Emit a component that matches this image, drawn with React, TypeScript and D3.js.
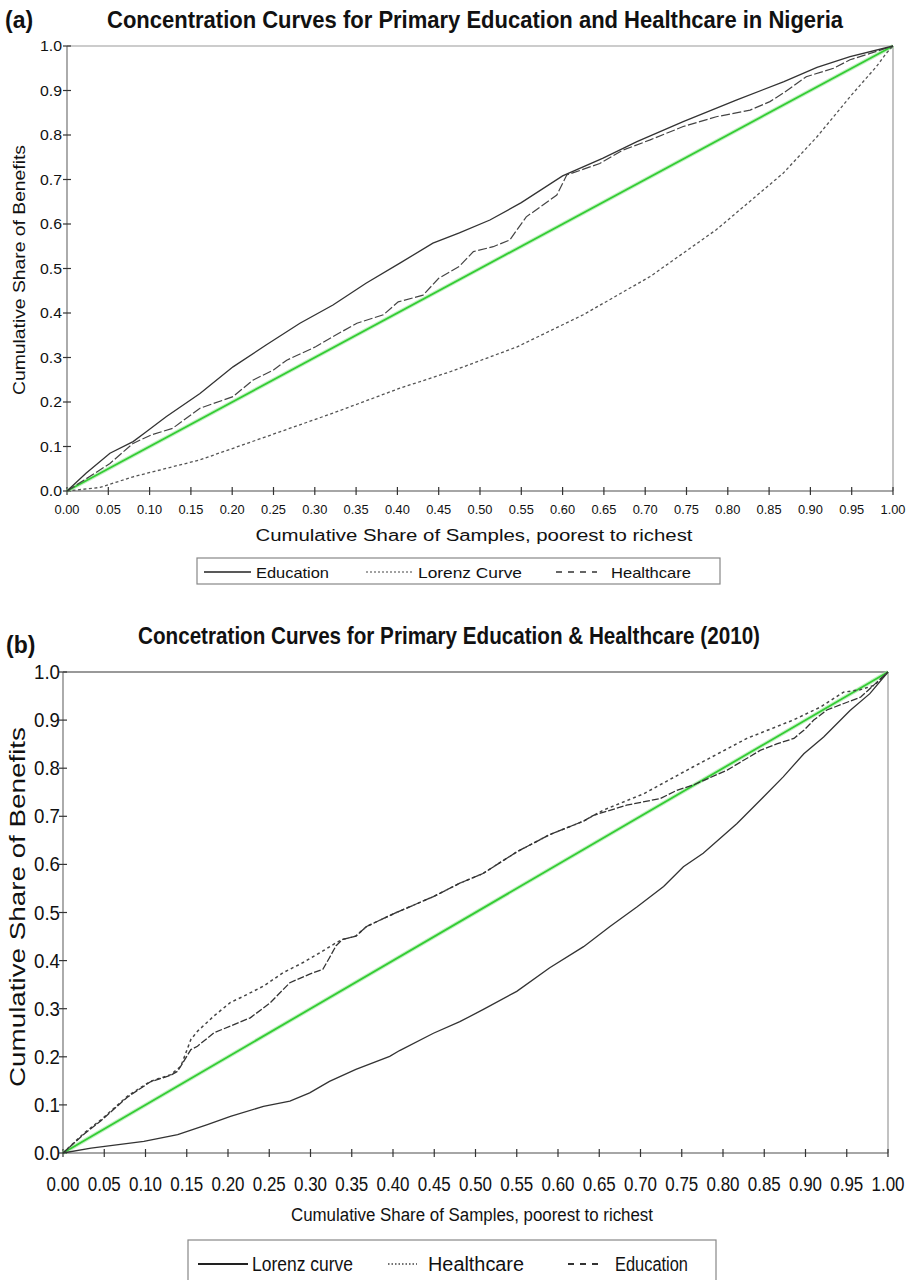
import { useRef, useEffect } from "react"
import * as d3 from "d3"

type Pt = [number, number]

// shared tick values and labels
const xTicks = [0, 0.05, 0.1, 0.15, 0.2, 0.25, 0.3, 0.35, 0.4, 0.45, 0.5, 0.55, 0.6, 0.65, 0.7, 0.75, 0.8, 0.85, 0.9, 0.95, 1]
const xTickLabels = ["0.00", "0.05", "0.10", "0.15", "0.20", "0.25", "0.30", "0.35", "0.40", "0.45", "0.50", "0.55", "0.60", "0.65", "0.70", "0.75", "0.80", "0.85", "0.90", "0.95", "1.00"]
const yTicks = [0, 0.1, 0.2, 0.3, 0.4, 0.5, 0.6, 0.7, 0.8, 0.9, 1]
const yTickLabels = ["0.0", "0.1", "0.2", "0.3", "0.4", "0.5", "0.6", "0.7", "0.8", "0.9", "1.0"]

const equality: Pt[] = [[0, 0], [1, 1]]

// panel (a)
const educationA: Pt[] = [
  [0, 0], [0.023, 0.04], [0.052, 0.085], [0.08, 0.111], [0.096, 0.133], [0.12, 0.167], [0.161, 0.219],
  [0.201, 0.279], [0.241, 0.328], [0.282, 0.377], [0.322, 0.418], [0.362, 0.467], [0.403, 0.512],
  [0.443, 0.557], [0.475, 0.58], [0.512, 0.609], [0.55, 0.648], [0.6, 0.708], [0.649, 0.748], [0.69, 0.785],
  [0.746, 0.83], [0.811, 0.879], [0.868, 0.92], [0.908, 0.952], [0.948, 0.976], [1, 1],
]
const lorenzA: Pt[] = [
  [0, 0], [0.04, 0.008], [0.08, 0.032], [0.161, 0.07], [0.241, 0.122], [0.322, 0.175], [0.403, 0.231],
  [0.464, 0.268], [0.545, 0.324], [0.625, 0.396], [0.706, 0.482], [0.786, 0.587], [0.867, 0.714],
  [0.908, 0.796], [0.948, 0.886], [0.98, 0.954], [0.992, 0.984], [1, 1],
]
const healthcareA: Pt[] = [
  [0, 0], [0.027, 0.032], [0.052, 0.062], [0.08, 0.107], [0.102, 0.126], [0.128, 0.141], [0.161, 0.186],
  [0.201, 0.212], [0.225, 0.249], [0.25, 0.272], [0.266, 0.294], [0.301, 0.324], [0.322, 0.347],
  [0.351, 0.377], [0.383, 0.396], [0.401, 0.425], [0.431, 0.44], [0.45, 0.478], [0.475, 0.505],
  [0.492, 0.538], [0.516, 0.549], [0.536, 0.564], [0.556, 0.616], [0.593, 0.665], [0.605, 0.71],
  [0.645, 0.736], [0.673, 0.766], [0.706, 0.789], [0.746, 0.819], [0.786, 0.841], [0.827, 0.856],
  [0.851, 0.875], [0.867, 0.894], [0.895, 0.931], [0.928, 0.95], [0.948, 0.969], [1, 1],
]

// panel (b)
const lorenzB: Pt[] = [
  [0, 0], [0.034, 0.01], [0.098, 0.024], [0.139, 0.038], [0.175, 0.059], [0.203, 0.076], [0.243, 0.097],
  [0.275, 0.108], [0.299, 0.125], [0.323, 0.149], [0.355, 0.174], [0.396, 0.201], [0.408, 0.213],
  [0.449, 0.249], [0.481, 0.273], [0.509, 0.298], [0.55, 0.336], [0.59, 0.385], [0.631, 0.429],
  [0.663, 0.471], [0.696, 0.512], [0.728, 0.554], [0.752, 0.595], [0.776, 0.623], [0.817, 0.685],
  [0.849, 0.74], [0.873, 0.782], [0.898, 0.83], [0.922, 0.865], [0.954, 0.92], [0.978, 0.955], [1, 1],
]
const healthcareB: Pt[] = [
  [0, 0], [0.026, 0.042], [0.046, 0.069], [0.078, 0.118], [0.106, 0.149], [0.131, 0.163], [0.143, 0.181],
  [0.155, 0.236], [0.163, 0.253], [0.183, 0.285], [0.203, 0.313], [0.219, 0.326], [0.243, 0.347],
  [0.267, 0.375], [0.291, 0.396], [0.315, 0.42], [0.331, 0.437], [0.339, 0.444], [0.355, 0.451],
  [0.368, 0.471], [0.404, 0.5], [0.449, 0.533], [0.481, 0.561], [0.509, 0.581], [0.55, 0.626],
  [0.59, 0.662], [0.631, 0.69], [0.655, 0.713], [0.704, 0.747], [0.764, 0.803], [0.829, 0.862],
  [0.885, 0.9], [0.918, 0.927], [0.946, 0.958], [0.966, 0.963], [0.983, 0.972], [1, 1],
]
const educationB: Pt[] = [
  [0, 0], [0.026, 0.04], [0.046, 0.067], [0.078, 0.116], [0.106, 0.148], [0.131, 0.162], [0.139, 0.17],
  [0.155, 0.215], [0.163, 0.222], [0.183, 0.25], [0.203, 0.264], [0.227, 0.281], [0.251, 0.312],
  [0.259, 0.326], [0.275, 0.354], [0.299, 0.372], [0.315, 0.382], [0.323, 0.406], [0.331, 0.431],
  [0.339, 0.444], [0.355, 0.451], [0.368, 0.471], [0.404, 0.5], [0.449, 0.533], [0.481, 0.561],
  [0.509, 0.581], [0.55, 0.626], [0.59, 0.662], [0.631, 0.69], [0.643, 0.702], [0.683, 0.723],
  [0.724, 0.737], [0.744, 0.754], [0.764, 0.765], [0.805, 0.796], [0.845, 0.837], [0.866, 0.851],
  [0.886, 0.862], [0.898, 0.879], [0.91, 0.9], [0.926, 0.921], [0.967, 0.948], [1, 1],
]

const SANS = "'Liberation Sans', Arial, sans-serif"
const NARROW = "'Liberation Sans Narrow', 'Arial Narrow', 'Liberation Sans', Arial, sans-serif"

function drawPanel(svg, p) {
  const x = d3.scaleLinear().domain([0, 1]).range([p.left, p.right])
  const y = d3.scaleLinear().domain([0, 1]).range([p.bottom, p.top])
  const g = svg.append("g")

  // frame
  g.append("line").attr("x1", p.left).attr("x2", p.right).attr("y1", p.top).attr("y2", p.top)
    .attr("stroke", "#999").attr("stroke-width", p.frameWidth)
  g.append("line").attr("x1", p.right).attr("x2", p.right).attr("y1", p.top).attr("y2", p.bottom)
    .attr("stroke", "#999").attr("stroke-width", 1.2)
  g.append("line").attr("x1", p.left).attr("x2", p.left).attr("y1", p.top).attr("y2", p.bottom)
    .attr("stroke", "#888").attr("stroke-width", 1.4)
  g.append("line").attr("x1", p.left).attr("x2", p.right).attr("y1", p.bottom).attr("y2", p.bottom)
    .attr("stroke", "#888").attr("stroke-width", 1.4)

  // ticks
  g.selectAll("line.xt").data(xTicks).join("line").attr("class", "xt")
    .attr("x1", (d) => x(d)).attr("x2", (d) => x(d)).attr("y1", p.bottom - 4).attr("y2", p.bottom + 4)
    .attr("stroke", "#333").attr("stroke-width", 1.2)
  g.selectAll("line.yt").data(yTicks).join("line").attr("class", "yt")
    .attr("x1", p.left - 4).attr("x2", p.left + 4).attr("y1", (d) => y(d)).attr("y2", (d) => y(d))
    .attr("stroke", "#333").attr("stroke-width", 1.2)

  g.selectAll("text.xl").data(xTicks).join("text").attr("class", "xl")
    .attr("x", (d) => x(d)).attr("y", p.xLabelY).attr("text-anchor", "middle")
    .attr("font-family", p.tickFont).attr("font-size", p.xLabelSize).attr("fill", "#111")
    .attr("textLength", p.xLabelLen).attr("lengthAdjust", "spacingAndGlyphs")
    .text((d, i) => xTickLabels[i])
  g.selectAll("text.yl").data(yTicks).join("text").attr("class", "yl")
    .attr("x", p.left - p.yLabelGap).attr("y", (d) => y(d) + p.yLabelShift).attr("text-anchor", "end")
    .attr("font-family", p.tickFont).attr("font-size", p.yLabelSize).attr("fill", "#111")
    .attr("textLength", p.yLabelLen).attr("lengthAdjust", "spacingAndGlyphs")
    .text((d, i) => yTickLabels[i])

  // curves
  const line = d3.line<Pt>().x((d) => x(d[0])).y((d) => y(d[1]))
  g.append("path").attr("d", line(equality)).attr("fill", "none")
    .attr("stroke", "#9be89b").attr("stroke-width", 4).attr("opacity", 0.6)
  g.append("path").attr("d", line(equality)).attr("fill", "none")
    .attr("stroke", "#33cc33").attr("stroke-width", 1.8)
  p.series.forEach((s) => {
    g.append("path").attr("d", line(s.data)).attr("fill", "none")
      .attr("stroke", s.color).attr("stroke-width", s.width)
      .attr("stroke-dasharray", s.dash || null)
  })

  // titles
  svg.append("text").attr("x", p.tagX).attr("y", p.tagY).attr("font-family", SANS)
    .attr("font-weight", "bold").attr("font-size", 23).attr("fill", "#111").text(p.tag)
  svg.append("text").attr("x", p.titleX).attr("y", p.titleY).attr("font-family", NARROW)
    .attr("font-weight", "bold").attr("font-size", p.titleSize).attr("fill", "#111")
    .attr("textLength", p.titleLen).attr("lengthAdjust", "spacingAndGlyphs").text(p.title)
  svg.append("text").attr("x", p.xTitleX).attr("y", p.xTitleY).attr("text-anchor", "middle")
    .attr("font-family", p.tickFont).attr("font-size", p.xTitleSize).attr("fill", "#111")
    .attr("textLength", p.xTitleLen).attr("lengthAdjust", "spacingAndGlyphs")
    .text("Cumulative Share of Samples, poorest to richest")
  svg.append("text").attr("transform", `translate(${p.yTitleX},${p.yTitleY}) rotate(-90)`)
    .attr("text-anchor", "middle").attr("font-family", SANS).attr("font-size", p.yTitleSize).attr("fill", "#111")
    .attr("textLength", p.yTitleLen).attr("lengthAdjust", "spacingAndGlyphs")
    .text("Cumulative Share of Benefits")

  // legend
  const lg = p.legend
  svg.append("rect").attr("x", lg.x).attr("y", lg.y).attr("width", lg.w).attr("height", lg.h)
    .attr("fill", "#fff").attr("stroke", "#888").attr("stroke-width", 1.2)
  lg.items.forEach((it) => {
    svg.append("line").attr("x1", it.x1).attr("x2", it.x2).attr("y1", lg.lineY).attr("y2", lg.lineY)
      .attr("stroke", it.color).attr("stroke-width", it.width).attr("stroke-dasharray", it.dash || null)
    svg.append("text").attr("x", it.tx).attr("y", lg.textY).attr("font-family", p.tickFont)
      .attr("font-size", lg.size).attr("fill", "#111")
      .attr("textLength", it.tw).attr("lengthAdjust", "spacingAndGlyphs").text(it.label)
  })
}

export default function App() {
  const svgRef = useRef<SVGSVGElement>(null)

  useEffect(() => {
    if (!svgRef.current) return
    const svg = d3.select(svgRef.current)
    svg.selectAll("*").remove()

    drawPanel(svg, {
      left: 67, right: 893, top: 46, bottom: 491, frameWidth: 1.2,
      tickFont: SANS, xLabelY: 514, xLabelSize: 13.5, xLabelLen: 25,
      yLabelGap: 5, yLabelShift: 5, yLabelSize: 14, yLabelLen: 22,
      tag: "(a)", tagX: 5, tagY: 28,
      title: "Concentration Curves for Primary Education and Healthcare in Nigeria",
      titleX: 107, titleY: 28, titleSize: 23, titleLen: 736,
      xTitleX: 474, xTitleY: 541, xTitleSize: 16, xTitleLen: 437,
      yTitleX: 25, yTitleY: 270, yTitleSize: 17, yTitleLen: 250,
      series: [
        { data: lorenzA, color: "#555", width: 1.3, dash: "3,2.5" },
        { data: healthcareA, color: "#444", width: 1.2, dash: "9,2.5" },
        { data: educationA, color: "#333", width: 1.3 },
      ],
      legend: {
        x: 197, y: 558, w: 523, h: 26, lineY: 572, textY: 578, size: 15,
        items: [
          { x1: 204, x2: 251, color: "#222", width: 1.3, tx: 256, tw: 73, label: "Education" },
          { x1: 366, x2: 413, color: "#444", width: 1.2, dash: "2,2", tx: 418, tw: 104, label: "Lorenz Curve" },
          { x1: 556, x2: 597, color: "#333", width: 1.3, dash: "6,6", tx: 611, tw: 80, label: "Healthcare" },
        ],
      },
    })

    drawPanel(svg, {
      left: 63, right: 888, top: 672, bottom: 1153, frameWidth: 2,
      tickFont: NARROW, xLabelY: 1191, xLabelSize: 20, xLabelLen: 33,
      yLabelGap: 3, yLabelShift: 7, yLabelSize: 20, yLabelLen: 26,
      tag: "(b)", tagX: 6, tagY: 653,
      title: "Concetration Curves for Primary Education & Healthcare (2010)",
      titleX: 138, titleY: 644, titleSize: 24, titleLen: 622,
      xTitleX: 472, xTitleY: 1221, xTitleSize: 18, xTitleLen: 362,
      yTitleX: 25, yTitleY: 907, yTitleSize: 22, yTitleLen: 360,
      series: [
        { data: lorenzB, color: "#333", width: 1.3 },
        { data: healthcareB, color: "#444", width: 1.5, dash: "3,3" },
        { data: educationB, color: "#333", width: 1.3, dash: "7,2" },
      ],
      legend: {
        x: 188, y: 1240, w: 528, h: 52, lineY: 1264, textY: 1271, size: 20,
        items: [
          { x1: 198, x2: 248, color: "#222", width: 2, tx: 252, tw: 101, label: "Lorenz curve" },
          { x1: 388, x2: 417, color: "#444", width: 1.3, dash: "1.5,2", tx: 428, tw: 96, label: "Healthcare" },
          { x1: 568, x2: 600, color: "#333", width: 1.8, dash: "6,6", tx: 615, tw: 73, label: "Education" },
        ],
      },
    })
  }, [])

  return (
    <>
      <style>{"body{margin:0}"}</style>
      <svg ref={svgRef} width={914} height={1280} style={{ display: "block", background: "#fff" }} />
    </>
  )
}
